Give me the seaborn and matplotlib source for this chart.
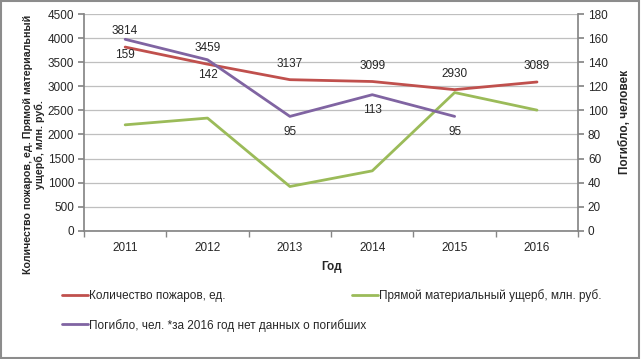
import numpy as np
import pandas as pd
import matplotlib
matplotlib.use("Agg")
import matplotlib.pyplot as plt
import seaborn as sns
from matplotlib.patches import Rectangle

# data
years = ["2011", "2012", "2013", "2014", "2015", "2016"]
fires = [3814, 3459, 3137, 3099, 2930, 3089]
damage = [2200, 2340, 920, 1245, 2870, 2505]
deaths = [159, 142, 95, 113, 95, np.nan]

RED, GREEN, PURPLE = "#C0504D", "#9BBB59", "#8064A2"
GRID = "#BFBFBF"
AXC = "#868686"

sns.set_theme(style="white")
plt.rcParams["font.family"] = ["Liberation Sans Narrow", "Liberation Sans", "DejaVu Sans"]
FS = 8.5

df = pd.DataFrame({"year": years, "fires": fires, "damage": damage, "deaths": deaths})
df["pos"] = np.arange(len(years))

fig = plt.figure(figsize=(6.41, 3.59), dpi=100)
ax = fig.add_axes([0.131, 0.357, 0.771, 0.604])
ax2 = ax.twinx()

sns.lineplot(data=df, x="pos", y="fires", ax=ax, color=RED, lw=2, label="Количество пожаров, ед.", legend=False)
sns.lineplot(data=df, x="pos", y="damage", ax=ax, color=GREEN, lw=2, label="Прямой материальный ущерб, млн. руб.", legend=False)
sns.lineplot(data=df.dropna(), x="pos", y="deaths", ax=ax2, color=PURPLE, lw=2,
             label="Погибло, чел. *за 2016 год нет данных о погибших", legend=False)

for x, v in zip(df["pos"], fires):
    ax.annotate(f"{v}", (x, v), xytext=(0, 7), textcoords="offset points",
                ha="center", va="bottom", fontsize=FS, color="#262626")
for x, v in zip(df["pos"], deaths):
    if not np.isnan(v):
        ax2.annotate(f"{int(v)}", (x, v), xytext=(0, -7), textcoords="offset points",
                     ha="center", va="top", fontsize=FS, color="#262626")

ax.set_xlim(-0.5, len(years) - 0.5)
ax.set_ylim(0, 4500)
ax2.set_ylim(0, 180)
ax.set_yticks(np.arange(0, 4501, 500))
ax2.set_yticks(np.arange(0, 181, 20))
ax.set_xticks(df["pos"])
ax.set_xticklabels(years)
ax.set_xticks(np.arange(-0.5, len(years)), minor=True)
ax.yaxis.grid(True, color=GRID, lw=0.9)
ax.set_axisbelow(True)

for a in (ax, ax2):
    for s in a.spines.values():
        s.set_visible(False)
ax.spines["left"].set_visible(True)
ax.spines["bottom"].set_visible(True)
ax2.spines["right"].set_visible(True)
ax.spines["left"].set_color(AXC)
ax.spines["bottom"].set_color(AXC)
ax2.spines["right"].set_color(AXC)

ax.tick_params(axis="y", length=4, color=AXC, labelsize=FS, pad=3, left=True)
ax.tick_params(axis="x", which="major", length=0, labelsize=FS, pad=8)
ax.tick_params(axis="x", which="minor", length=4, color=AXC, bottom=True)
ax2.tick_params(axis="y", length=4, color=AXC, labelsize=FS, pad=3, right=True)

ax.set_xlabel("Год", fontsize=FS, fontweight="bold", labelpad=5)
ax.set_ylabel("Количество пожаров, ед. Прямой материальный\nущерб, млн. руб.", fontsize=7.7,
              fontweight="bold")
ax.yaxis.set_label_coords(-0.078, 0.40)
ax2.set_ylabel("Погибло, человек", fontsize=FS, fontweight="bold", labelpad=8)

h1, l1 = ax.get_legend_handles_labels()
h2, l2 = ax2.get_legend_handles_labels()
fig.legend(h1, l1, ncol=2, loc="upper left", bbox_to_anchor=(0.08, 0.225), frameon=False,
           fontsize=FS, handlelength=2.2, handletextpad=0.1, columnspacing=10.7)
fig.legend(h2, l2, loc="upper left", bbox_to_anchor=(0.08, 0.142), frameon=False,
           fontsize=FS, handlelength=2.2, handletextpad=0.1)

fig.patches.append(Rectangle((0.002, 0.003), 0.995, 0.993, transform=fig.transFigure,
                             fill=False, edgecolor="#8C8C8C", lw=1.5))

fig.savefig("out.png", dpi=100)
